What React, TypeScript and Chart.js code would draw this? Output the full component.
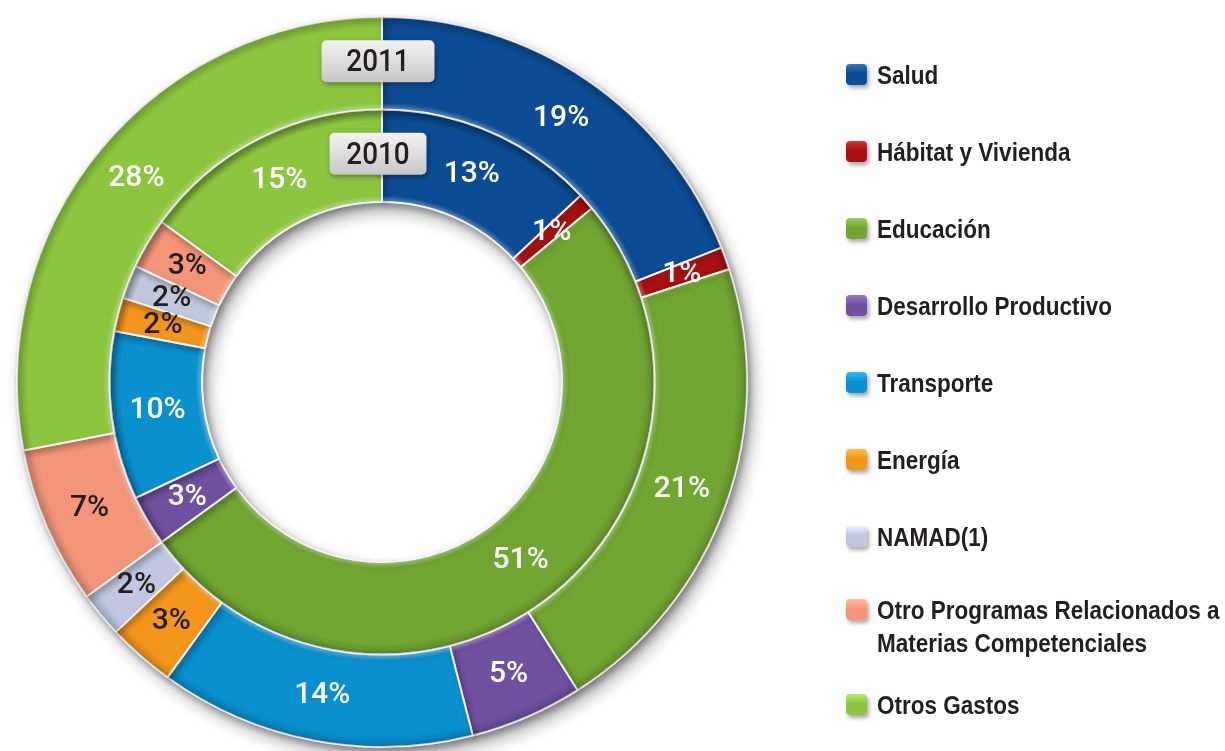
import React, { useEffect, useRef } from "react";
import { Chart, registerables } from "chart.js";

Chart.register(...registerables);

const categories = [
  "Salud",
  "Hábitat y Vivienda",
  "Educación",
  "Desarrollo Productivo",
  "Transporte",
  "Energía",
  "NAMAD(1)",
  "Otro Programas Relacionados a Materias Competenciales",
  "Otros Gastos",
];
const legendLines = [
  ["Salud"],
  ["Hábitat y Vivienda"],
  ["Educación"],
  ["Desarrollo Productivo"],
  ["Transporte"],
  ["Energía"],
  ["NAMAD(1)"],
  ["Otro Programas Relacionados a", "Materias Competenciales"],
  ["Otros Gastos"],
];
const years = ["2011", "2010"];
const values2011 = [19, 1, 21, 5, 14, 3, 2, 7, 28];
const values2010 = [13, 1, 51, 3, 10, 2, 2, 3, 15];
const colors = [
  "#0b4c95",
  "#a8110f",
  "#71a632",
  "#7150a0",
  "#0a90cf",
  "#f5961c",
  "#c0c7df",
  "#f29579",
  "#8cc63f",
];
const labelColors = [
  "#ffffff",
  "#ffffff",
  "#ffffff",
  "#ffffff",
  "#ffffff",
  "#231f20",
  "#231f20",
  "#231f20",
  "#ffffff",
];

const shadowPlugin = {
  id: "ringShadow",
  beforeDatasetsDraw(chart: any) {
    // soft drop shadow under the whole doughnut
    const ctx = chart.ctx;
    const meta = chart.getDatasetMeta(0);
    const arc = meta.data[0];
    if (!arc) return;
    const { x, y, outerRadius } = arc.getProps(["x", "y", "outerRadius"]);
    const inner = chart.getDatasetMeta(chart.data.datasets.length - 1).data[0];
    const innerR = inner ? inner.getProps(["innerRadius"]).innerRadius : 0;
    ctx.save();
    ctx.shadowColor = "rgba(0,0,0,0.45)";
    ctx.shadowBlur = 18;
    ctx.shadowOffsetX = 6;
    ctx.shadowOffsetY = 9;
    ctx.fillStyle = "#ffffff";
    ctx.beginPath();
    ctx.arc(x, y, outerRadius - 2, 0, Math.PI * 2);
    ctx.arc(x, y, innerR + 2, Math.PI * 2, 0, true);
    ctx.closePath();
    ctx.fill();
    ctx.restore();
  },
  beforeDatasetDraw(chart: any) {
    const ctx = chart.ctx;
    ctx.save();
    ctx.shadowColor = "rgba(0,0,0,0.22)";
    ctx.shadowBlur = 6;
    ctx.shadowOffsetX = 2;
    ctx.shadowOffsetY = 3;
  },
  afterDatasetDraw(chart: any) {
    chart.ctx.restore();
  },
};

const bevelPlugin = {
  id: "bevel",
  afterDatasetsDraw(chart: any) {
    const ctx = chart.ctx;
    chart.data.datasets.forEach((_ds: any, di: number) => {
      const meta = chart.getDatasetMeta(di);
      meta.data.forEach((arc: any) => {
        const { x, y, startAngle, endAngle, innerRadius, outerRadius } = arc.getProps([
          "x",
          "y",
          "startAngle",
          "endAngle",
          "innerRadius",
          "outerRadius",
        ]);
        ctx.save();
        ctx.beginPath();
        ctx.arc(x, y, outerRadius, startAngle, endAngle);
        ctx.arc(x, y, innerRadius, endAngle, startAngle, true);
        ctx.closePath();
        ctx.clip();
        const g = ctx.createRadialGradient(x, y, innerRadius, x, y, outerRadius);
        g.addColorStop(0, "rgba(255,255,255,0.35)");
        g.addColorStop(0.07, "rgba(255,255,255,0.0)");
        g.addColorStop(0.88, "rgba(0,0,0,0.0)");
        g.addColorStop(1, "rgba(0,0,0,0.18)");
        ctx.fillStyle = g;
        ctx.fill();
        ctx.restore();
      });
    });
  },
};

const labelPlugin = {
  id: "pctLabels",
  afterDatasetsDraw(chart: any) {
    const ctx = chart.ctx;
    ctx.save();
    ctx.font = "500 30px Roboto, 'Open Sans', sans-serif";
    ctx.textAlign = "center";
    ctx.textBaseline = "middle";
    chart.data.datasets.forEach((ds: any, di: number) => {
      const meta = chart.getDatasetMeta(di);
      meta.data.forEach((arc: any, i: number) => {
        const p = arc.tooltipPosition();
        ctx.fillStyle = labelColors[i];
        ctx.fillText(`${ds.data[i]}%`, p.x, p.y);
      });
    });
    ctx.restore();
  },
};

const yearPlugin = {
  id: "yearBoxes",
  afterDraw(chart: any) {
    const ctx = chart.ctx;
    const widths = [113, 97];
    chart.data.datasets.forEach((ds: any, di: number) => {
      const meta = chart.getDatasetMeta(di);
      const arc = meta.data[0];
      if (!arc) return;
      const { x, y, innerRadius, outerRadius } = arc.getProps(["x", "y", "innerRadius", "outerRadius"]);
      const cy = y - (innerRadius + outerRadius) / 2 - 2;
      const cx = x - 4;
      const w = widths[di];
      const h = 42;
      ctx.save();
      ctx.shadowColor = "rgba(0,0,0,0.4)";
      ctx.shadowBlur = 5;
      ctx.shadowOffsetX = 1;
      ctx.shadowOffsetY = 2;
      const g = ctx.createLinearGradient(0, cy - h / 2, 0, cy + h / 2);
      g.addColorStop(0, "#f2f2f2");
      g.addColorStop(0.5, "#dedede");
      g.addColorStop(1, "#c6c6c6");
      ctx.fillStyle = g;
      ctx.beginPath();
      ctx.roundRect(cx - w / 2, cy - h / 2, w, h, 5);
      ctx.fill();
      ctx.restore();
      ctx.save();
      ctx.font = "500 31px Roboto, 'Open Sans', sans-serif";
      ctx.fillStyle = "#231f20";
      ctx.textAlign = "center";
      ctx.textBaseline = "middle";
      ctx.translate(cx, cy + 2);
      ctx.scale(0.9, 1);
      ctx.fillText(ds.label, 0, 0);
      ctx.restore();
    });
  },
};

function lighten(hex: string, amt: number) {
  const n = parseInt(hex.slice(1), 16);
  const r = Math.min(255, ((n >> 16) & 255) + amt);
  const g = Math.min(255, ((n >> 8) & 255) + amt);
  const b = Math.min(255, (n & 255) + amt);
  return `rgb(${r},${g},${b})`;
}

const legendTops = [75, 152, 229, 306, 383, 460, 537, 610, 705];

export default function App() {
  const canvasRef = useRef<HTMLCanvasElement | null>(null);

  useEffect(() => {
    if (!canvasRef.current) return;
    const chart = new Chart(canvasRef.current, {
      type: "doughnut",
      data: {
        labels: categories,
        datasets: [
          {
            label: years[0],
            data: values2011,
            backgroundColor: colors,
            borderColor: "#f2f2f2",
            borderWidth: 2,
          },
          {
            label: years[1],
            data: values2010,
            backgroundColor: colors,
            borderColor: "#f2f2f2",
            borderWidth: 2,
          },
        ],
      },
      options: {
        animation: false,
        responsive: true,
        maintainAspectRatio: false,
        cutout: "49.3%",
        layout: { padding: { left: 16, top: 16, right: 477, bottom: 3 } },
        plugins: {
          legend: { display: false },
          tooltip: { enabled: false },
        },
      },
      plugins: [shadowPlugin, bevelPlugin, labelPlugin, yearPlugin],
    });
    return () => chart.destroy();
  }, []);

  return (
    <div
      style={{
        position: "absolute",
        left: 0,
        top: 0,
        width: 1225,
        height: 751,
        background: "#ffffff",
        overflow: "hidden",
      }}
    >
      <canvas ref={canvasRef} style={{ position: "absolute", left: 0, top: 0 }} />
      {legendLines.map((lines, i) => (
        <div
          key={categories[i]}
          style={{
            position: "absolute",
            left: 846,
            top: legendTops[i] - 16,
            display: "flex",
            alignItems: "flex-start",
            fontFamily: "'Liberation Sans', Arial, sans-serif",
            fontWeight: 700,
            fontSize: 25,
            lineHeight: "33px",
            color: "#231f20",
            whiteSpace: "nowrap",
          }}
        >
          <div
            style={{
              width: 21,
              height: 21,
              marginTop: 5,
              marginRight: 10,
              borderRadius: 4,
              background: `linear-gradient(180deg, ${lighten(colors[i], 40)} 0%, ${colors[i]} 45%, ${colors[i]} 100%)`,
              boxShadow: "2px 3px 4px rgba(0,0,0,0.35)",
              flex: "none",
            }}
          />
          <div style={{ transform: "scaleX(0.9)", transformOrigin: "left center" }}>
            {lines.map((t) => (
              <div key={t}>{t}</div>
            ))}
          </div>
        </div>
      ))}
    </div>
  );
}
